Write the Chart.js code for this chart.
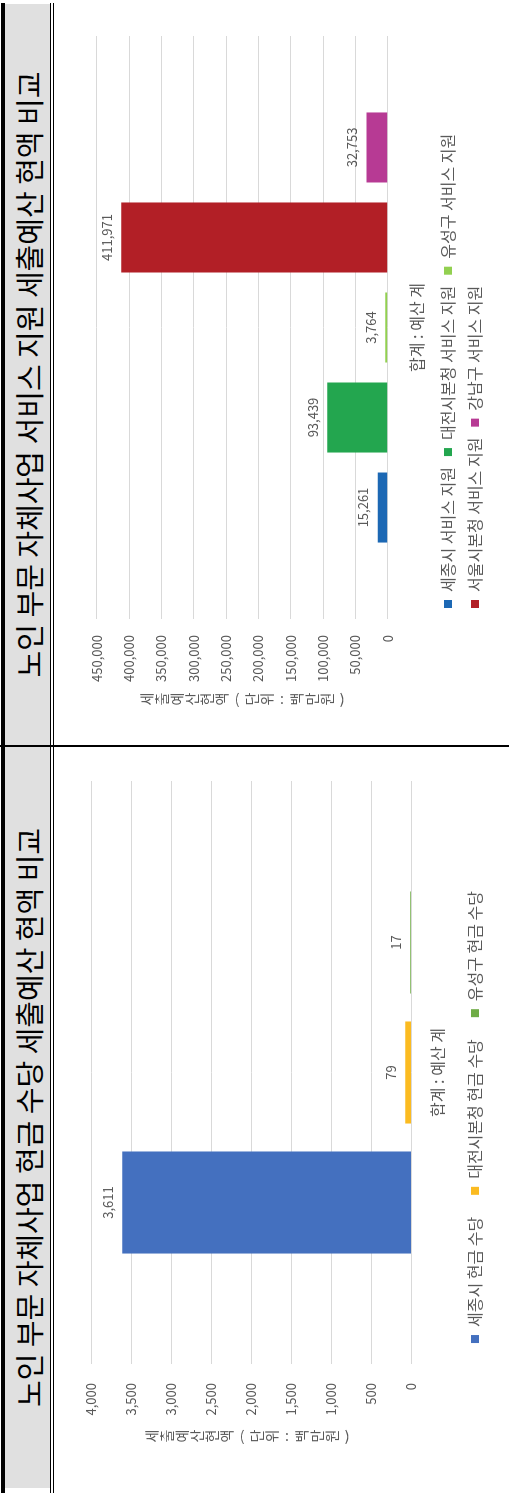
<!DOCTYPE html>
<html><head><meta charset="utf-8">
<script src="https://cdn.jsdelivr.net/npm/chart.js@4.4.1/dist/chart.umd.min.js"></script>
<style>
html,body{margin:0;padding:0;background:#fff;width:509px;height:1493px;overflow:hidden;}
#page{position:absolute;left:0;top:0;width:1493px;height:509px;transform-origin:0 0;transform:translate(0,1493px) rotate(-90deg);background:#fff;}
.blk{position:absolute;background:#000;}
.titlecell{position:absolute;top:5px;height:45px;background:#E0E0E0;display:flex;align-items:center;justify-content:center;font-family:'Noto Sans CJK KR',sans-serif;font-size:29px;color:#000;white-space:nowrap;}
canvas{position:absolute;}
</style></head>
<body>
<div id="page">
  <div class="titlecell" style="left:5px;width:741px;">노인 부문 자체사업 현금 수당 세출예산 현액 비교</div>
  <div class="titlecell" style="left:748px;width:741px;">노인 부문 자체사업 서비스 지원 세출예산 현액 비교</div>
  <div class="blk" style="left:0;top:1px;width:1490px;height:4px;"></div>
  <div class="blk" style="left:0;top:50px;width:1490px;height:1px;"></div>
  <div class="blk" style="left:0;top:53px;width:1490px;height:1px;"></div>
  <div class="blk" style="left:746px;top:0;width:2px;height:509px;"></div>
  <canvas id="c1" width="740" height="455" style="left:5px;top:54px;"></canvas>
  <canvas id="c2" width="741" height="455" style="left:748px;top:54px;"></canvas>
</div>
<script>
const FONT = "'Noto Sans CJK KR', 'Noto Sans', sans-serif";
const categories = ['합계 : 예산 계'];

const cashLabels = ['세종시 현금 수당', '대전시본청 현금 수당', '유성구 현금 수당'];
const cashValues = [3611, 79, 17];
const cashColors = ['#4470BF', '#FBBB21', '#6FAC46'];
const cashMax = 4000;
const cashStep = 500;

const serviceLabels = ['세종시 서비스 지원', '대전시본청 서비스 지원', '유성구 서비스 지원', '서울시본청 서비스 지원', '강남구 서비스 지원'];
const serviceValues = [15261, 93439, 3764, 411971, 32753];
const serviceColors = ['#1C68B4', '#23A64F', '#92D050', '#B21F26', '#B73A94'];
const serviceMax = 450000;
const serviceStep = 50000;

const axisTitle = '세출예산현액(단위:백만원)';

const valueLabels = {
  id: 'valueLabels',
  afterDatasetsDraw(chart, args, opts) {
    const ctx = chart.ctx;
    ctx.save();
    ctx.font = opts.size + 'px ' + FONT;
    ctx.fillStyle = opts.color;
    ctx.textAlign = 'center';
    ctx.textBaseline = 'middle';
    chart.data.datasets.forEach((ds, i) => {
      const meta = chart.getDatasetMeta(i);
      meta.data.forEach((el, j) => {
        ctx.fillText(ds.data[j].toLocaleString('en-US'), el.x, el.y - opts.offset);
      });
    });
    ctx.restore();
  }
};

const stackedTitle = {
  id: 'stackedTitle',
  afterDraw(chart, args, opts) {
    const ctx = chart.ctx;
    ctx.save();
    ctx.font = opts.size + 'px ' + FONT;
    ctx.fillStyle = opts.color;
    ctx.textAlign = 'center';
    ctx.textBaseline = 'middle';
    [...opts.text].forEach((c, i) => {
      const y = opts.y + i * opts.step;
      if (c === '(' || c === ')' || c === ':') {
        ctx.save();
        ctx.translate(opts.x, y);
        ctx.rotate(Math.PI / 2);
        ctx.fillText(c, 0, 0);
        ctx.restore();
      } else {
        ctx.fillText(c, opts.x, y);
      }
    });
    ctx.restore();
  }
};

function makeChart(id, labels, values, colors, max, step, cfg) {
  return new Chart(document.getElementById(id), {
    type: 'bar',
    data: {
      labels: categories,
      datasets: labels.map((l, i) => ({
        label: l,
        data: [values[i]],
        backgroundColor: colors[i],
        borderWidth: 0,
        categoryPercentage: cfg.catPct,
        barPercentage: cfg.barPct
      }))
    },
    options: {
      responsive: false,
      animation: false,
      devicePixelRatio: 1,
      layout: { padding: cfg.padding },
      scales: {
        x: {
          grid: { display: false },
          border: { display: false },
          ticks: { padding: cfg.xPad, color: '#595959', font: { family: FONT, size: 16 } },
          afterFit(s) { s.height = cfg.xH; }
        },
        y: {
          min: 0, max: max,
          ticks: { stepSize: step, padding: cfg.yPad, color: '#595959', font: { family: FONT, size: 13 } },
          grid: { color: '#D9D9D9', lineWidth: 1, drawTicks: false },
          border: { display: false },
          afterFit(s) { s.width = cfg.yW; }
        }
      },
      plugins: {
        legend: {
          position: 'bottom',
          align: cfg.align,
          fullSize: cfg.fullSize,
          labels: { boxWidth: 8, boxHeight: 8, padding: cfg.legPad, color: '#595959', font: { family: FONT, size: 16 } }
        },
        tooltip: { enabled: false },
        valueLabels: { size: 13, color: '#595959', offset: 14.5 },
        stackedTitle: { text: axisTitle, x: cfg.titleX, y: cfg.titleY, step: 15, size: 14, color: '#595959' }
      }
    },
    plugins: [valueLabels, stackedTitle]
  });
}

makeChart('c1', cashLabels, cashValues, cashColors, cashMax, cashStep, {
  catPct: 0.669, barPct: 0.785,
  padding: { left: 35, right: 33, top: 37, bottom: 16 },
  yW: 89, yPad: 19, xH: 33.5, xPad: 8.5, legPad: 22, align: 'center', fullSize: true,
  titleX: 52, titleY: 98
});

makeChart('c2', serviceLabels, serviceValues, serviceColors, serviceMax, serviceStep, {
  catPct: 0.772, barPct: 0.778,
  padding: { left: 0, right: 32, top: 42.7, bottom: 16 },
  yW: 126, yPad: 16, xH: 41.3, xPad: 12, legPad: 11, align: 'start', fullSize: false,
  titleX: 46, titleY: 93
});
</script>
</body></html>
